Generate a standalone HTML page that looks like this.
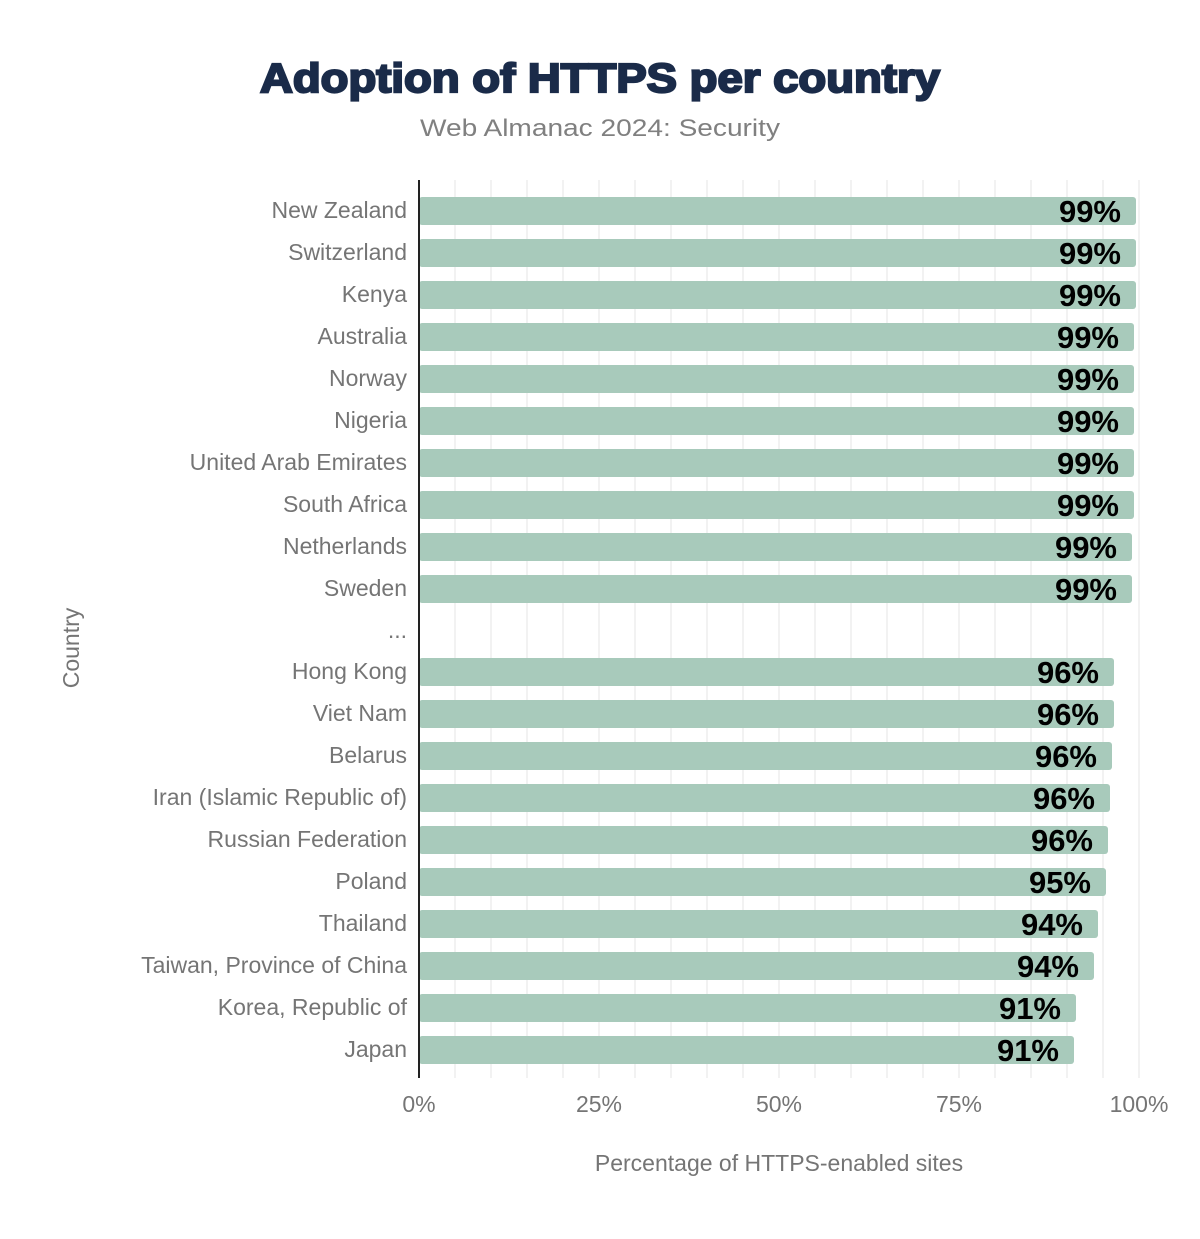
<!DOCTYPE html>
<html><head><meta charset="utf-8"><style>
body{margin:0;background:#fff;}
svg text{font-family:"Liberation Sans",Arial,sans-serif;}
</style></head><body>
<svg width="1200" height="1234" xmlns="http://www.w3.org/2000/svg">
<rect width="1200" height="1234" fill="#fff"/>
<text x="260" y="92" font-size="41" font-weight="900" fill="#1a2b49" stroke="#1a2b49" stroke-width="2.2" textLength="680" lengthAdjust="spacingAndGlyphs">Adoption of HTTPS per country</text>
<text x="600" y="136" text-anchor="middle" font-size="24" fill="#808080" textLength="360" lengthAdjust="spacingAndGlyphs">Web Almanac 2024: Security</text>
<g stroke="#eeeeee" stroke-width="1.5">
<line x1="455" y1="180" x2="455" y2="1078"/><line x1="491" y1="180" x2="491" y2="1078"/><line x1="527" y1="180" x2="527" y2="1078"/><line x1="563" y1="180" x2="563" y2="1078"/><line x1="599" y1="180" x2="599" y2="1078"/><line x1="635" y1="180" x2="635" y2="1078"/><line x1="671" y1="180" x2="671" y2="1078"/><line x1="707" y1="180" x2="707" y2="1078"/><line x1="743" y1="180" x2="743" y2="1078"/><line x1="779" y1="180" x2="779" y2="1078"/><line x1="815" y1="180" x2="815" y2="1078"/><line x1="851" y1="180" x2="851" y2="1078"/><line x1="887" y1="180" x2="887" y2="1078"/><line x1="923" y1="180" x2="923" y2="1078"/><line x1="959" y1="180" x2="959" y2="1078"/><line x1="995" y1="180" x2="995" y2="1078"/><line x1="1031" y1="180" x2="1031" y2="1078"/><line x1="1067" y1="180" x2="1067" y2="1078"/><line x1="1103" y1="180" x2="1103" y2="1078"/><line x1="1139" y1="180" x2="1139" y2="1078"/>
</g>
<g fill="#a8cabb">
<rect x="419" y="197" width="717" height="28" rx="3"/>
<rect x="419" y="239" width="717" height="28" rx="3"/>
<rect x="419" y="281" width="717" height="28" rx="3"/>
<rect x="419" y="323" width="715" height="28" rx="3"/>
<rect x="419" y="365" width="715" height="28" rx="3"/>
<rect x="419" y="407" width="715" height="28" rx="3"/>
<rect x="419" y="449" width="715" height="28" rx="3"/>
<rect x="419" y="491" width="715" height="28" rx="3"/>
<rect x="419" y="533" width="713" height="28" rx="3"/>
<rect x="419" y="575" width="713" height="28" rx="3"/>
<rect x="419" y="658" width="695" height="28" rx="3"/>
<rect x="419" y="700" width="695" height="28" rx="3"/>
<rect x="419" y="742" width="693" height="28" rx="3"/>
<rect x="419" y="784" width="691" height="28" rx="3"/>
<rect x="419" y="826" width="689" height="28" rx="3"/>
<rect x="419" y="868" width="687" height="28" rx="3"/>
<rect x="419" y="910" width="679" height="28" rx="3"/>
<rect x="419" y="952" width="675" height="28" rx="3"/>
<rect x="419" y="994" width="657" height="28" rx="3"/>
<rect x="419" y="1036" width="655" height="28" rx="3"/>
</g>
<line x1="419" y1="180" x2="419" y2="1078" stroke="#222" stroke-width="2"/>
<g font-size="23" fill="#757575" text-anchor="end">
<text x="407" y="218">New Zealand</text><text x="407" y="260">Switzerland</text><text x="407" y="302">Kenya</text><text x="407" y="344">Australia</text><text x="407" y="386">Norway</text><text x="407" y="428">Nigeria</text><text x="407" y="470">United Arab Emirates</text><text x="407" y="512">South Africa</text><text x="407" y="554">Netherlands</text><text x="407" y="596">Sweden</text><text x="407" y="638">...</text><text x="407" y="679">Hong Kong</text><text x="407" y="721">Viet Nam</text><text x="407" y="763">Belarus</text><text x="407" y="805">Iran (Islamic Republic of)</text><text x="407" y="847">Russian Federation</text><text x="407" y="889">Poland</text><text x="407" y="931">Thailand</text><text x="407" y="973">Taiwan, Province of China</text><text x="407" y="1015">Korea, Republic of</text><text x="407" y="1057">Japan</text>
</g>
<g font-size="31" font-weight="bold" fill="#000" text-anchor="end" stroke="#a8cabb" stroke-width="3" paint-order="stroke">
<text x="1121" y="222">99%</text><text x="1121" y="264">99%</text><text x="1121" y="306">99%</text><text x="1119" y="348">99%</text><text x="1119" y="390">99%</text><text x="1119" y="432">99%</text><text x="1119" y="474">99%</text><text x="1119" y="516">99%</text><text x="1117" y="558">99%</text><text x="1117" y="600">99%</text>
<text x="1099" y="683">96%</text><text x="1099" y="725">96%</text><text x="1097" y="767">96%</text><text x="1095" y="809">96%</text><text x="1093" y="851">96%</text><text x="1091" y="893">95%</text><text x="1083" y="935">94%</text><text x="1079" y="977">94%</text><text x="1061" y="1019">91%</text><text x="1059" y="1061">91%</text>
</g>
<g font-size="23" fill="#757575" text-anchor="middle">
<text x="419" y="1112">0%</text><text x="599" y="1112">25%</text><text x="779" y="1112">50%</text><text x="959" y="1112">75%</text><text x="1139" y="1112">100%</text>
<text x="779" y="1171">Percentage of HTTPS-enabled sites</text>
<text transform="translate(79,648) rotate(-90)">Country</text>
</g>
</svg>
</body></html>
